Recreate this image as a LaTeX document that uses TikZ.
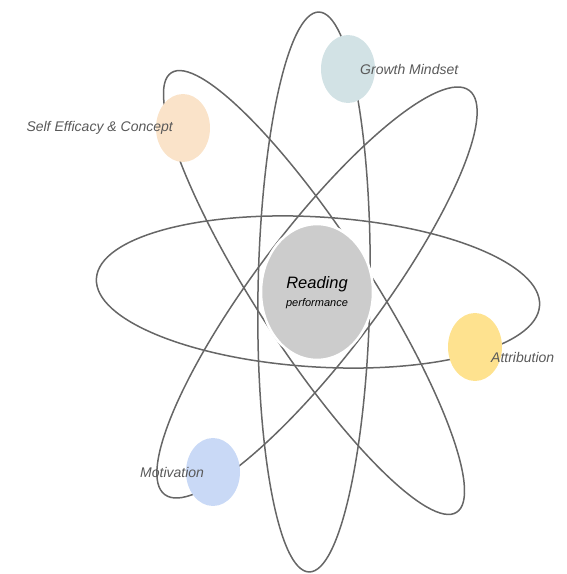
\documentclass[tikz,border=0pt]{standalone}
\usepackage{fontspec}
\setmainfont{Liberation Sans}
\usetikzlibrary{shapes.geometric}

\definecolor{orbitgray}{HTML}{666666}
\definecolor{labelgray}{HTML}{595959}
\definecolor{coregray}{HTML}{CCCCCC}
\definecolor{peach}{HTML}{FAE3C9}
\definecolor{mist}{HTML}{D2E2E5}
\definecolor{sun}{HTML}{FEE28F}
\definecolor{sky}{HTML}{C9D9F6}

\begin{document}
\begin{tikzpicture}[
        x=1pt, y=1pt,
        orbit/.style={draw=orbitgray, line width=1.5pt},
        planet/.style={ellipse, minimum width=54pt, minimum height=68pt, inner sep=0pt},
        core/.style={ellipse, fill=coregray, draw=white, line width=2.5pt, minimum width=112pt, minimum height=136pt, inner sep=0pt},
        tag/.style={font=\itshape\fontsize{14}{16}\selectfont, text=labelgray, inner sep=0pt}
    ]
        \useasboundingbox (0,0) rectangle (567,574);

        % Orbits
        \draw[orbit] (318,282) ellipse [x radius=222, y radius=75, rotate=-3.5];
        \draw[orbit] (314,282) ellipse [x radius=56, y radius=280, rotate=-1];
        \draw[orbit] (314,281.5) ellipse [x radius=262, y radius=57, rotate=-57];
        \draw[orbit] (317,281.5) ellipse [x radius=253, y radius=62, rotate=53];

        % Nodes
        \node (reading) at (317,282) [core] {};
        \node (efficacy) at (183,446) [planet, fill=peach] {};
        \node (mindset) at (348,505) [planet, fill=mist] {};
        \node (attribution) at (475,227) [planet, fill=sun] {};
        \node (motivation) at (213,102) [planet, fill=sky] {};

        % Labels
        \node at (317,290) [font=\itshape\fontsize{16.5}{18}\selectfont] {Reading};
        \node at (317,270) [font=\itshape\fontsize{11}{12}\selectfont] {performance};
        \node at (173,446) [tag, anchor=east] {Self Efficacy \& Concept};
        \node at (360,504) [tag, anchor=west] {Growth Mindset};
        \node at (491,217) [tag, anchor=west] {Attribution};
        \node at (140,102) [tag, anchor=west] {Motivation};

    \end{tikzpicture}
\end{document}
